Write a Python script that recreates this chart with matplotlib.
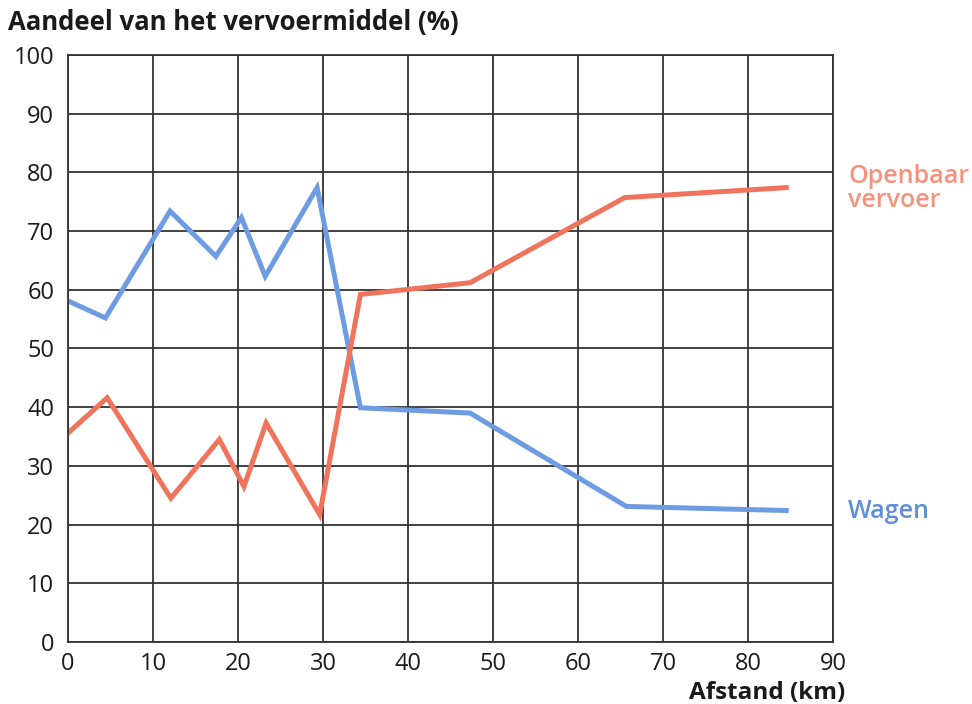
import matplotlib.pyplot as plt

plt.rcParams['font.family'] = ['Open Sans', 'DejaVu Sans']

# afstand (km) en aandeel (%)
wagen_x = [0, 4.4, 12.0, 17.4, 20.4, 23.2, 29.3, 34.4, 47.3, 65.7, 84.5]
wagen_y = [58.1, 55.2, 73.4, 65.7, 72.3, 62.3, 77.4, 39.9, 39.0, 23.1, 22.4]

ov_x = [0, 4.6, 12.1, 17.8, 20.7, 23.3, 29.6, 34.4, 47.3, 65.5, 84.5]
ov_y = [35.6, 41.6, 24.5, 34.5, 26.5, 37.3, 21.7, 59.2, 61.2, 75.7, 77.4]

x_ticks = list(range(0, 91, 10))
y_ticks = list(range(0, 101, 10))

blue = '#6e9ce2'
red = '#f0735c'

fig = plt.figure(figsize=(9.72, 7.04), dpi=100)
ax = fig.add_axes([0.07, 0.088, 0.787, 0.834])

ax.plot(wagen_x, wagen_y, color=blue, lw=3.6, solid_joinstyle='miter')
ax.plot(ov_x, ov_y, color=red, lw=3.6, solid_joinstyle='miter')

ax.set_xlim(0, 90)
ax.set_ylim(0, 100)
ax.set_xticks(x_ticks)
ax.set_yticks(y_ticks)
ax.grid(True, color='#333333', lw=1.3)
ax.set_axisbelow(True)
for s in ax.spines.values():
    s.set_color('#333333')
    s.set_linewidth(1.3)
ax.tick_params(length=0, labelsize=17, colors='#1a1a1a', pad=10)
ax.tick_params(axis='x', pad=7)

fig.text(0.008, 0.968, 'Aandeel van het vervoermiddel (%)', fontsize=18.5,
         fontweight='bold', color='#1a1a1a', va='center', ha='left')
fig.text(0.87, 0.016, 'Afstand (km)', fontsize=17.5, fontweight='bold',
         color='#1a1a1a', va='center', ha='right')

ax.text(1.02, 0.772, 'Openbaar\nvervoer', transform=ax.transAxes, fontsize=18,
        fontweight='semibold', color='#f4927b', va='center', ha='left',
        linespacing=0.95)
ax.text(1.02, 0.222, 'Wagen', transform=ax.transAxes, fontsize=18,
        fontweight='semibold', color='#5e8fd8', va='center', ha='left')

fig.savefig('out.png', dpi=100, facecolor='white')
